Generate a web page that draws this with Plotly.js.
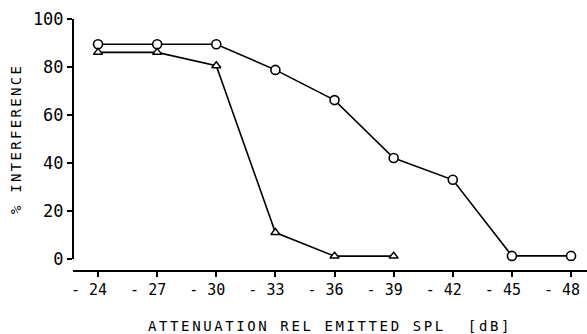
<!DOCTYPE html>
<html>
<head>
<meta charset="utf-8">
<script src="https://cdn.plot.ly/plotly-3.0.1.min.js"></script>
<style>
  html, body { margin: 0; padding: 0; background: #fff; }
  #chart { width: 587px; height: 334px; }
  .xtitle { letter-spacing: 2.6px; }
  .ytitle { letter-spacing: 2.3px; }
</style>
</head>
<body>
<div id="chart"></div>
<script>
// Attenuation relative to emitted SPL (dB)
const attenCircles = [-24, -27, -30, -33, -36, -39, -42, -45, -48];
const interfCircles = [89.5, 89.5, 89.5, 78.8, 66.2, 42.1, 33.0, 1.3, 1.3];

const attenTriangles = [-24, -27, -30, -33, -36, -39];
const interfTriangles = [86.1, 86.1, 80.5, 11.0, 1.2, 1.2];

const xTickVals = [-24, -27, -30, -33, -36, -39, -42, -45, -48];
const xTickText = ['- 24', '- 27', '- 30', '- 33', '- 36', '- 39', '- 42', '- 45', '- 48'];
const yTickVals = [0, 20, 40, 60, 80, 100];

const mono = 'DejaVu Sans Mono, monospace';

const traces = [
  {
    x: attenCircles, y: interfCircles,
    mode: 'lines+markers', type: 'scatter',
    line: { color: '#000', width: 1.6 },
    marker: { symbol: 'circle', size: 9, color: '#fff', line: { color: '#000', width: 1.6 } },
    cliponaxis: false, showlegend: false
  },
  {
    x: attenTriangles, y: interfTriangles,
    mode: 'lines+markers', type: 'scatter',
    line: { color: '#000', width: 1.6 },
    marker: { symbol: 'triangle-up', size: 8, color: '#fff', line: { color: '#000', width: 1.5 } },
    cliponaxis: false, showlegend: false
  }
];

const layout = {
  width: 587, height: 334,
  margin: { l: 73, r: 0, t: 19, b: 63, pad: 0 },
  paper_bgcolor: '#fff', plot_bgcolor: '#fff',
  showlegend: false,
  xaxis: {
    range: [-22.73, -48.81],
    anchor: 'free', position: 0,
    tickvals: xTickVals, ticktext: xTickText,
    ticks: 'outside', ticklen: 5, tickwidth: 2, tickcolor: '#000',
    showline: true, linecolor: '#000', linewidth: 2,
    showgrid: false, zeroline: false,
    ticklabelshift: 9,
    ticklabeloverflow: 'allow',
    tickfont: { family: mono, size: 15, color: '#000' },
    title: { text: 'ATTENUATION REL EMITTED SPL  [dB]', standoff: 24,
             font: { family: mono, size: 14, color: '#000' } }
  },
  yaxis: {
    range: [0, 100],
    domain: [0.0476, 1],
    anchor: 'free', position: 0,
    tickvals: yTickVals,
    ticks: 'outside', ticklen: 5, tickwidth: 2, tickcolor: '#000',
    showline: true, linecolor: '#000', linewidth: 2,
    showgrid: false, zeroline: false,
    tickfont: { family: mono, size: 17, color: '#000' },
    title: { text: '% INTERFERENCE', standoff: 7,
             font: { family: mono, size: 14, color: '#000' } }
  }
};

Plotly.newPlot('chart', traces, layout, { displayModeBar: false, staticPlot: true });
</script>
</body>
</html>
